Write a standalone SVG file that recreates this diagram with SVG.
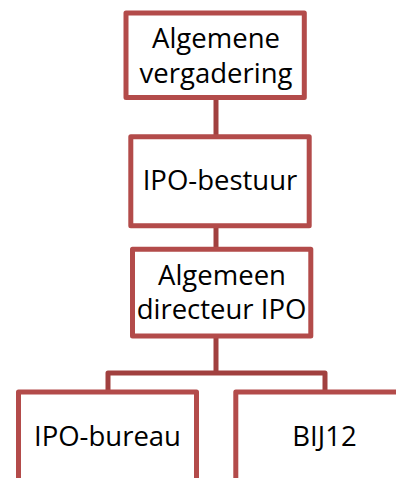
<svg xmlns="http://www.w3.org/2000/svg" width="396" height="478" viewBox="0 0 396 478">
<style>
.box{fill:#FFFFFF;stroke:#B34B4A;stroke-width:5;stroke-linejoin:round}
.conn{fill:none;stroke:#A1403F;stroke-width:5;stroke-linejoin:round}
.lbl{font-family:"Open Sans","Noto Sans",sans-serif;font-size:27.5px;fill:#000000;text-anchor:middle}
</style>
<rect width="396" height="478" fill="#FFFFFF"/>
<g id="connectors">
<path class="conn" d="M216,97.5 V136.7"/>
<path class="conn" d="M216,225.8 V249.2"/>
<path class="conn" d="M216,336 V373 M108,392 V373 H325 V392"/>
</g>
<g id="node-algemene-vergadering">
<rect class="box" x="126" y="13" width="178.3" height="84.5"/>
<text class="lbl" x="216" y="48.3">Algemene</text>
<text class="lbl" x="216" y="82.7">vergadering</text>
</g>
<g id="node-ipo-bestuur">
<rect class="box" x="130.8" y="136.7" width="178.4" height="89.1"/>
<text class="lbl" x="220" y="189.5">IPO-bestuur</text>
</g>
<g id="node-algemeen-directeur">
<rect class="box" x="132.5" y="249.2" width="178.3" height="86.8"/>
<text class="lbl" x="222" y="284.5">Algemeen</text>
<text class="lbl" x="221.5" y="318.5">directeur IPO</text>
</g>
<g id="node-ipo-bureau">
<rect class="box" x="18.5" y="392" width="178" height="110"/>
<text class="lbl" x="107.5" y="446">IPO-bureau</text>
</g>
<g id="node-bij12">
<rect class="box" x="235.8" y="392" width="178" height="110"/>
<text class="lbl" x="324.5" y="446">BIJ12</text>
</g>
</svg>
